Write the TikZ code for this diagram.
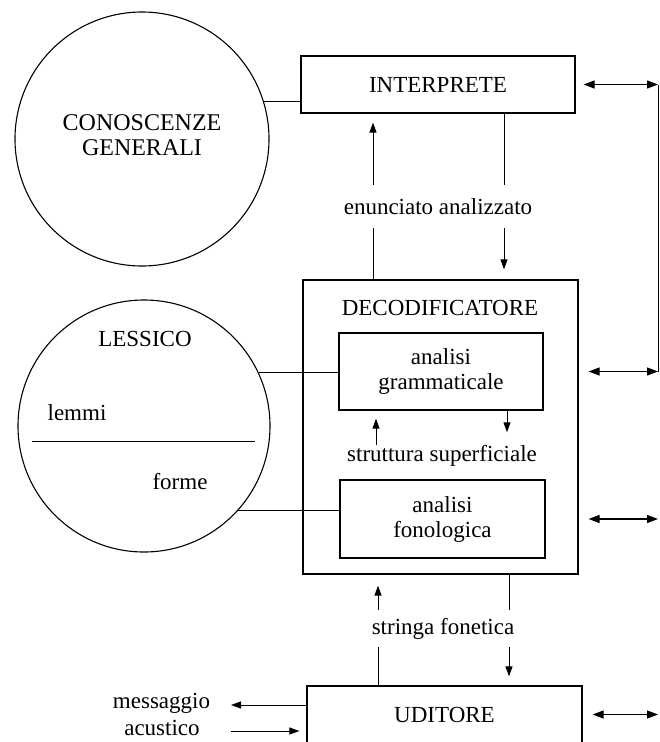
\documentclass[tikz,border=0pt]{standalone}
\usepackage{fontspec}
\setmainfont{Liberation Serif}
\usetikzlibrary{arrows.meta}

\begin{document}
\begin{tikzpicture}[x=1pt,y=-1pt,
  every node/.style={font=\fontsize{23}{25}\selectfont, inner sep=0pt},
  box/.style={draw, line width=1.2pt},
  circ/.style={draw, circle, line width=1.1pt},
  link/.style={line width=1pt},
  arr/.style={line width=1pt, -{Triangle[length=10pt,width=7pt]}},
  darr/.style={line width=1.2pt, {Triangle[length=11pt,width=8pt]}-{Triangle[length=11pt,width=8pt]}}]

\useasboundingbox (0,0) rectangle (660,742);
\clip (0,0) rectangle (660,742);

% knowledge stores
\node[circ, minimum size=254pt] (gen) at (142,139) {};
\node[align=center, font=\fontsize{24}{25}\selectfont] (gentxt) at (142,135.5) {CONOSCENZE\\GENERALI};

\node[circ, minimum size=252pt] (les) at (144,426) {};
\node (lestxt) at (145,339) {LESSICO};
\node (lemmi) at (77,413) {lemmi};
\node (forme) at (180,482) {forme};
\draw[link] (les.center) ++(-112,15) coordinate (sepL) -- ++(223,0) coordinate (sepR);

% processing modules
\node[box, minimum width=274pt, minimum height=57pt] (interp) at (438,84.5) {INTERPRETE};
\node[box, minimum width=275pt, minimum height=294pt] (decod) at (440.5,427) {};
\node (decodtxt) at (440,308) {DECODIFICATORE};
\node[box, minimum width=204pt, minimum height=77pt, align=center] (gram) at (441,371.5) {analisi\\grammaticale};
\node[box, minimum width=205pt, minimum height=78pt, align=center] (fono) at (442.5,519) {analisi\\fonologica};
\node[box, minimum width=275pt, minimum height=57pt] (udit) at (444.5,714.5) {UDITORE};

% flow labels
\node[minimum height=43pt] (enun) at (438,206.5) {enunciato analizzato};
\node (strut) at (442,456) {struttura superficiale};
\node[minimum height=37pt] (string) at (443,628.5) {stringa fonetica};
\node[anchor=base] (mess) at (161.5,708) {messaggio};
\node[anchor=base] (acus) at (162,735) {acustico};

% columns of the vertical arrows
\coordinate (c1) at (373,0);
\coordinate (c2) at (504,0);
\coordinate (c3) at (376,0);
\coordinate (c4) at (507,0);
\coordinate (c5) at (378,0);
\coordinate (c6) at (509,0);
\coordinate (rail) at (658,0);
\coordinate (dE) at ([xshift=10pt]decod.east);
\coordinate (uE) at ([xshift=10pt]udit.east);
\coordinate (mA) at (231,705);
\coordinate (aA) at (231,731);

% links to the stores
\draw[link] (gen.17.9) -- (gen.17.9 -| interp.west);
\draw[link] (les.25.4) -- (les.25.4 -| gram.west);
\draw[link] (les.-42.4) -- (les.-42.4 -| fono.west);

% interprete <-> decodificatore
\draw[link] (decod.north -| c1) -- (enun.south -| c1);
\draw[arr, shorten >=9pt] (enun.north -| c1) -- (interp.south -| c1);
\draw[link] (interp.south -| c2) -- (enun.north -| c2);
\draw[arr, shorten >=10pt] (enun.south -| c2) -- (decod.north -| c2);

% grammatical <-> phonological analysis
\draw[arr, shorten >=8pt] (strut.north -| c3) -- (gram.south -| c3);
\draw[arr, shorten >=13pt] (gram.south -| c4) -- (strut.north -| c4);

% decodificatore <-> uditore
\draw[link] (udit.north -| c5) -- (string.south -| c5);
\draw[arr, shorten >=11pt] (string.north -| c5) -- (decod.south -| c5);
\draw[link] (decod.south -| c6) -- (string.north -| c6);
\draw[arr, shorten >=9pt] (string.south -| c6) -- (udit.north -| c6);

% acoustic message
\draw[arr] (udit.west |- mA) -- (mA);
\draw[arr, shorten >=7pt] (aA) -- (udit.west |- aA);

% exchanges on the right
\draw[darr] ([xshift=8pt]interp.east) -- (interp.east -| rail);
\draw[darr] (dE |- gram.east) -- (gram.east -| rail);
\draw[darr] (dE |- fono.east) -- (fono.east -| rail);
\draw[darr] (uE |- udit.east) -- (udit.east -| rail);
\draw[link] (interp.east -| rail) -- (gram.east -| rail);
\end{tikzpicture}
\end{document}
